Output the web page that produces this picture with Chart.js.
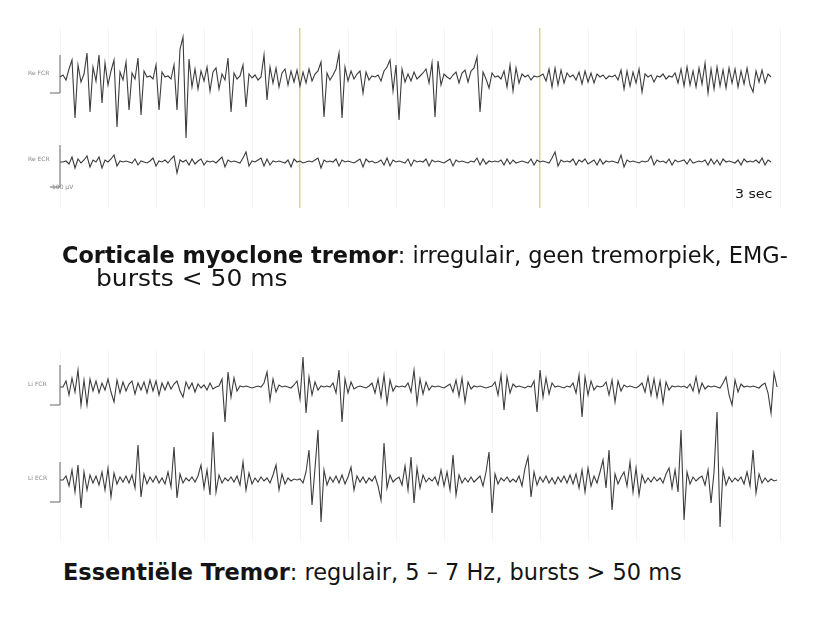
<!DOCTYPE html>
<html>
<head>
<meta charset="utf-8">
<script src="https://cdn.jsdelivr.net/npm/chart.js@4.4.1/dist/chart.umd.min.js"></script>
<style>
  body { margin:0; background:#fff; width:823px; height:619px; position:relative; overflow:hidden;
         font-family:"DejaVu Sans", Verdana, sans-serif; color:#141414; }
  canvas { position:absolute; left:0; }
  .txt { position:absolute; white-space:nowrap; transform-origin:0 0; font-size:23px; line-height:23px; }
  .ch { position:absolute; font-size:6px; line-height:6px; color:#888; white-space:nowrap; }
</style>
</head>
<body>
<canvas id="topPanel" width="823" height="180" style="top:28px"></canvas>
<canvas id="bottomPanel" width="823" height="192" style="top:350px"></canvas>

<div class="ch" style="left:28px;top:70px">Re FCR</div>
<div class="ch" style="left:28px;top:156px">Re ECR</div>
<div class="ch" style="left:52px;top:184px">100 µV</div>
<div class="ch" style="left:28px;top:381px">Li FCR</div>
<div class="ch" style="left:28px;top:475px">Li ECR</div>

<div class="txt" style="left:735px;top:187px;font-size:13px;line-height:13px" data-w="37">3 sec</div>
<div class="txt" style="left:62px;top:244px" data-w="726"><b>Corticale myoclone tremor</b>: irregulair, geen tremorpiek, EMG-</div>
<div class="txt" style="left:96px;top:267px" data-w="191">bursts &lt; 50 ms</div>
<div class="txt" style="left:63px;top:561px" data-w="619"><b>Essentiële Tremor</b>: regulair, 5 – 7 Hz, bursts &gt; 50 ms</div>

<script>
// tijd per sample (ms) en rasterlijnen (ms)
var sampleMs = 12.5;
var gridTicks = [0, 200, 400, 600, 800, 1000, 1200, 1400, 1600, 1800, 2000, 2200, 2400, 2600, 2800, 3000];
var topMarkers = [1000, 2000];

// ijkpuls links van elk kanaal
var calTimes = [-42, 0, 0];
var calTop1 = [-16, -16, 22];
var calTop2 = [-25, -25, 17];
var calBot1 = [-18, -18, 22];
var calBot2 = [-22, -22, 18];

// Corticale myoclone tremor - kanaal 1
var top1 = [
  0, 2, -3, 8, 17, -41, 12, -5, 3, 24,
  -35, 10, -4, 22, -26, 14, -8, 6, 17, -50,
  5, -3, 15, -33, 4, -2, 19, -38, 6, 0,
  1, -2, 12, -33, 5, 0, 1, -2, 12, -33,
  28, 40, -61, 18, -10, 8, -12, 6, -4, 10,
  -14, 5, 9, -12, 3, -3, 19, -35, 4, -2,
  1, 12, -30, 3, -1, 2, -3, 0, 22, -23,
  10, -6, 9, -10, 4, 8, -8, 6, -5, 7,
  -9, 5, -6, 8, -4, 3, 6, 15, -40, 4,
  -3, 2, 8, 24, -41, 10, -4, 6, -2, 3,
  6, -16, 5, -3, 1, 0, 2, -4, 6, 10,
  17, -14, 12, -43, 8, -5, 3, -4, 5, -2,
  1, 4, 8, -6, 14, -40, 16, -8, 3, 0,
  -2, 2, 5, -6, 4, 7, -5, 6, 9, 20,
  -35, 5, -2, -11, 4, 0, 1, -2, 6, -10,
  12, -14, 9, -6, 3, 0, 2, -3, 1, 0,
  1, 3, -4, 8, -10, 9, -8, 7, -6, 4,
  0, 2, -3, 5, -7, 6, -5, 4, -6, 3,
  0, 2, -2, 1, 0, 2, -3, 7, -12, 6,
  -9, 5, -6, 8, -15, 3, 0, 2, -5, 1,
  0, 3, -2, 1, 0, 4, -6, 8, -9, 10,
  -8, 6, -10, 9, -7, 14, -16, 8, -12, 10,
  -9, 7, -11, 9, -6, 8, -10, 6, -7, 9,
  -8, -15, 6, -5, 7, -6, 3, 0
];

// Corticale myoclone tremor - kanaal 2
var top2 = [
  0, 0, 1, -2, 5, -6, 3, -1, 2, 6,
  -5, 2, 0, 5, -6, 2, 0, 3, 7, -4,
  1, 0, 1, 0, -1, 3, -3, 1, 0, -1,
  1, 4, -4, 1, 0, 2, -1, 3, 6, -11,
  2, 0, 2, -3, 3, -2, 1, 3, -3, 1,
  0, 1, -1, 2, 5, -5, 2, 0, 1, 0,
  -1, 4, 10, -4, 1, 0, 2, 4, -4, 3,
  -3, 1, 0, 1, 0, -1, 2, -5, 3, 0,
  1, -1, 0, 1, 0, 2, 4, -6, 2, 0,
  1, 0, 3, -4, 2, 0, 1, 0, -1, 1,
  3, -5, 3, 0, 1, -1, 0, 2, -3, 4,
  -4, 2, 0, 1, 0, -1, 3, -4, 2, 0,
  1, 0, 3, -4, 2, 0, 1, 0, -1, 1,
  3, -4, 2, 0, 1, 0, -1, 1, 0, 4,
  -3, 3, -2, 1, 0, 1, 0, 2, -3, 3,
  -2, 2, -1, 0, 1, 0, -1, 3, -3, 2,
  0, 1, 0, -1, 4, 10, -4, 2, 0, 1,
  0, 3, -3, 2, 0, 3, -2, 0, 2, -3,
  3, -2, 1, 0, 1, 0, -1, 7, -5, 2,
  0, 1, 0, -1, 1, 0, 1, 6, -3, 2,
  0, 1, -1, 3, -3, 2, 0, 1, 2, -2,
  3, -1, 0, 1, 0, 2, -3, 3, -2, 2,
  -3, 3, 0, 1, 0, -1, 2, -3, 3, 0,
  1, 0, 2, -1, 4, -3, 2, 0
];

// Essentiële tremor - kanaal 1
var bot1 = [
  0, 0, 6, -8, 9, -5, 17, -18, 7, -18,
  8, -4, 6, -6, 4, -3, 8, -5, -15, 7,
  -6, 5, -4, 3, 6, -7, 4, -3, 5, -6,
  7, -4, 6, -8, 4, -3, 5, -2, 3, 6,
  -4, -10, 5, -2, 4, -5, 3, -1, 2, -3,
  4, -2, 0, 1, 8, -35, 15, -10, 9, -4,
  1, 0, 1, 0, -1, 0, 1, 0, 4, 15,
  -13, 8, -5, 2, 0, 1, 0, -1, 2, 6,
  -12, 30, -26, 10, -8, 5, -3, 1, 0, 1,
  0, 4, -6, 17, -35, 8, -6, 5, -2, 0,
  1, 0, -1, 1, 4, -6, 8, -10, 12, -16,
  7, -4, 1, 0, 1, 0, 4, -5, 17, -16,
  8, -7, 5, -3, 1, 0, 1, 0, -1, 1,
  3, -5, 7, -9, 9, -15, 5, -2, 1, 0,
  1, 0, -1, 0, 1, 5, -8, 12, -23, 10,
  -6, 3, 0, 1, 0, -1, 1, 0, 6, -25,
  17, -10, 9, -7, 4, 0, 1, 0, -1, 1,
  0, 4, -6, 12, -30, 10, -8, 6, -3, 1,
  0, 1, 5, -8, 7, -15, 6, -4, 2, 0,
  1, 0, -1, 1, 4, -5, 10, -8, 8, -10,
  6, -16, 5, -3, 1, 0, 1, 0, 1, -1,
  3, -4, 10, -6, 4, -2, 1, 0, 1, 0,
  -1, 4, 10, -8, -18, 7, -5, 3, 0, 1,
  0, 1, 0, -1, 2, 4, -6, -26, 14, 0
];

// Essentiële tremor - kanaal 2
var bot2 = [
  0, 0, 4, -6, 10, -12, 15, -28, 8, -10,
  5, -3, 4, -5, 8, -10, 12, -17, 7, -4,
  3, -2, 4, -3, 5, -8, 35, -17, 6, -4,
  3, -2, 4, -3, 2, -4, 8, -7, 33, -18,
  6, -3, 2, -1, 3, -2, 4, 15, -8, 10,
  -15, 48, -12, 5, -3, 2, -1, 3, -2, 4,
  -5, 18, -10, 7, -4, 2, -2, 3, -1, 2,
  -3, 5, 15, -10, 6, -4, 2, -1, 1, 0,
  1, -3, 8, 30, -25, 12, 50, -42, 10, -5,
  3, -2, 4, -3, 5, -4, 3, 13, -10, 4,
  -2, 3, -3, 2, -1, 4, -6, -20, 37, -8,
  5, -2, 1, 3, -5, 14, -10, 23, -23, 12,
  -8, 5, -2, 2, -1, 3, -5, 10, -6, 8,
  -10, 25, -15, 5, -3, 2, -2, 3, -2, 1,
  4, -6, 8, 28, -33, 6, -4, 2, -1, 3,
  -2, 1, -2, 4, -6, 12, 23, -17, 8, -5,
  3, -2, 4, -3, 2, -4, 3, -2, 4, -3,
  5, -4, 6, -8, 10, -12, 12, -6, 4, -3,
  8, 20, -8, 30, -30, 6, -4, 3, 8, -6,
  18, -12, 12, -15, 5, -3, 2, -2, 3, -1,
  2, -3, 6, 12, -8, 10, -12, 50, -40, 8,
  -4, 3, -1, 2, 4, -5, 10, -23, 8, 68,
  -47, 10, -5, 3, -2, 2, -1, 3, -4, 8,
  -6, 30, -13, 6, -3, 2, -2, 1, -1, 0
];

function series(vals) {
  return vals.map(function (v, i) { return { x: i * sampleMs, y: v }; });
}
function calib(vals) {
  return vals.map(function (v, i) { return { x: calTimes[i], y: v }; });
}

function trace(data, axis, color, width) {
  return {
    data: data, yAxisID: axis, borderColor: color, borderWidth: width,
    pointRadius: 0, fill: false, tension: 0
  };
}

function makePanel(id, ch1, ch2, cal1, cal2, range1, range2, markers) {
  new Chart(document.getElementById(id), {
    type: 'line',
    data: {
      datasets: [
        trace(series(ch1), 'y', '#3c3c3c', 1.1),
        trace(series(ch2), 'y2', '#3c3c3c', 1.1),
        trace(calib(cal1), 'y', '#666', 1),
        trace(calib(cal2), 'y2', '#666', 1)
      ]
    },
    options: {
      responsive: false,
      animation: false,
      layout: { padding: 0 },
      plugins: { legend: { display: false }, tooltip: { enabled: false } },
      scales: {
        x: {
          type: 'linear', min: -250, max: 3179,
          afterBuildTicks: function (scale) {
            scale.ticks = gridTicks.map(function (v) { return { value: v }; });
          },
          ticks: { display: false },
          border: { display: false },
          grid: {
            drawTicks: false,
            color: function (c) {
              return markers.indexOf(c.tick.value) >= 0 ? 'rgba(200,190,120,0.7)' : 'rgba(0,0,0,0.04)';
            },
            lineWidth: function (c) { return markers.indexOf(c.tick.value) >= 0 ? 1.5 : 1; }
          }
        },
        y: { display: false, min: range1[0], max: range1[1] },
        y2: { display: false, min: range2[0], max: range2[1] }
      }
    }
  });
}

makePanel('topPanel', top1, top2, calTop1, calTop2, [-131, 49], [-46, 134], topMarkers);
makePanel('bottomPanel', bot1, bot2, calBot1, calBot2, [-155, 37], [-62, 130], []);

// tekst op breedte brengen
document.querySelectorAll('.txt').forEach(function (el) {
  var w = parseFloat(el.getAttribute('data-w'));
  el.style.transform = 'scaleX(' + (w / el.scrollWidth) + ')';
});
</script>
</body>
</html>
